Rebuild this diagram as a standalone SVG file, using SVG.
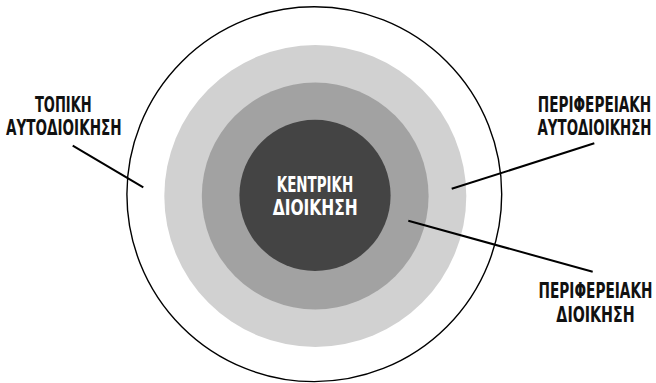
<svg xmlns="http://www.w3.org/2000/svg" width="656" height="383" viewBox="0 0 656 383">
<style>
.lbl{font-family:"DejaVu Sans Condensed","DejaVu Sans","Liberation Sans",sans-serif;font-weight:bold;font-stretch:condensed;font-size:15px;fill:#111;text-anchor:middle}
.in{fill:#fff}
.ln{stroke:#000;stroke-width:2;fill:none}
</style>
<rect width="656" height="383" fill="#fff"/>
<g id="outer"><circle cx="314.3" cy="194.2" r="187.4" fill="#fff" stroke="#000" stroke-width="1.4"/></g>
<g id="light"><circle cx="315.3" cy="196" r="151" fill="#d1d1d1"/></g>
<g id="mid"><circle cx="315.2" cy="196" r="113.4" fill="#a2a2a2"/></g>
<g id="core"><circle cx="315" cy="195.4" r="75.6" fill="#444"/>
<text class="lbl in" transform="translate(315 191.7) scale(1 1.367)" textLength="76.6" lengthAdjust="spacingAndGlyphs">ΚΕΝΤΡΙΚΗ</text>
<text class="lbl in" transform="translate(315.2 215) scale(1 1.367)" textLength="85" lengthAdjust="spacingAndGlyphs">ΔΙΟΙΚΗΣΗ</text>
</g>
<g id="connectors">
<line class="ln" x1="72.7" y1="145.7" x2="143.3" y2="187.3"/>
<line class="ln" x1="594.3" y1="143.3" x2="451.7" y2="188.8"/>
<line class="ln" x1="408.3" y1="220.8" x2="592.7" y2="271.7"/>
</g>
<g id="label-local">
<text class="lbl" transform="translate(63.3 111.7) scale(1 1.367)" textLength="56.7" lengthAdjust="spacingAndGlyphs">ΤΟΠΙΚΗ</text>
<text class="lbl" transform="translate(63.8 135) scale(1 1.367)" textLength="115.7" lengthAdjust="spacingAndGlyphs">ΑΥΤΟΔΙΟΙΚΗΣΗ</text>
</g>
<g id="label-regional-self">
<text class="lbl" transform="translate(594.5 111.7) scale(1 1.367)" textLength="113.5" lengthAdjust="spacingAndGlyphs">ΠΕΡΙΦΕΡΕΙΑΚΗ</text>
<text class="lbl" transform="translate(594.5 135) scale(1 1.367)" textLength="114" lengthAdjust="spacingAndGlyphs">ΑΥΤΟΔΙΟΙΚΗΣΗ</text>
</g>
<g id="label-regional">
<text class="lbl" transform="translate(595.5 298.3) scale(1 1.367)" textLength="114" lengthAdjust="spacingAndGlyphs">ΠΕΡΙΦΕΡΕΙΑΚΗ</text>
<text class="lbl" transform="translate(595.5 321.7) scale(1 1.367)" textLength="78.3" lengthAdjust="spacingAndGlyphs">ΔΙΟΙΚΗΣΗ</text>
</g>
</svg>
